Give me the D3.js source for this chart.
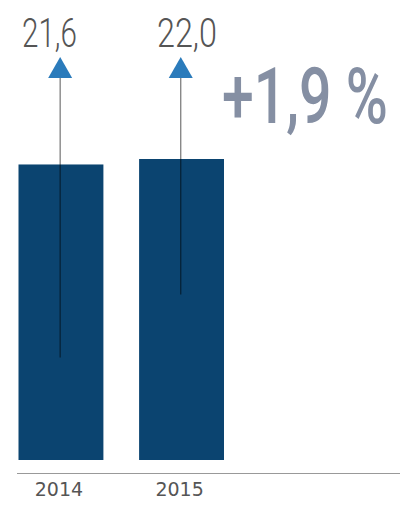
<!DOCTYPE html>
<html><head><meta charset="utf-8">
<script src="https://cdn.jsdelivr.net/npm/d3@7"></script>
<style>html,body{margin:0;padding:0;background:#fff;}svg{display:block;}</style>
</head><body>
<script>
const years = ["2014", "2015"];
const values = [21.6, 22.0];
const valueLabels = ["21,6", "22,0"];
const arrowBase = [7.5, 12.1];   // value where each arrow line starts
const changeLabel = "+1,9 %";

const W = 416, H = 507;
const svg = d3.select("body").append("svg").attr("width", W).attr("height", H);

const x = d3.scaleBand().domain(years).range([18.5, 224]).paddingInner(0.296).paddingOuter(0);
const y = d3.scaleLinear().domain([0, 22]).range([460, 159]);

// bars
svg.selectAll("rect.bar").data(years).join("rect")
  .attr("class", "bar")
  .attr("x", d => x(d)).attr("width", x.bandwidth())
  .attr("y", (d, i) => y(values[i])).attr("height", (d, i) => y(0) - y(values[i]))
  .attr("fill", "#0b4470");

// arrow lines
const tipY = 57, baseTri = 78;
const cxOf = d => x(d) + x.bandwidth() / 2 - 0.8;
svg.selectAll("line.arrow").data(years).join("line")
  .attr("x1", cxOf).attr("x2", cxOf)
  .attr("y1", (d, i) => y(arrowBase[i])).attr("y2", baseTri)
  .attr("stroke", "rgba(0,0,0,0.55)").attr("stroke-width", 1.2);

// triangles
svg.selectAll("path.tri").data(years).join("path")
  .attr("d", d => {
    const cx = cxOf(d);
    return `M${cx},${tipY}L${cx + 12},${baseTri}L${cx - 12},${baseTri}Z`;
  })
  .attr("fill", "#2b7bbb");

// helper: horizontally squeeze text to a target width, left edge at x0
function squeeze(sel, x0, baseY, targetW) {
  sel.each(function() {
    const t = d3.select(this);
    const w = this.getComputedTextLength();
    const s = targetW / w;
    t.attr("x", 0).attr("y", 0)
     .attr("transform", `translate(${x0},${baseY}) scale(${s},1)`);
  });
}

// value labels
const valLefts = [22, 157];
svg.selectAll("text.val").data(years).join("text")
  .attr("class", "val")
  .attr("font-family", "Roboto, sans-serif").attr("font-weight", 300)
  .attr("font-size", 41).attr("fill", "#555")
  .text((d, i) => valueLabels[i])
  .each(function(d, i) { squeeze(d3.select(this), valLefts[i], 47, i === 0 ? 55 : 60); });

// change label
svg.append("text")
  .attr("font-family", "Roboto, sans-serif").attr("font-weight", 500)
  .attr("font-size", 77).attr("fill", "#858fa3")
  .text(changeLabel)
  .call(s => squeeze(s, 222, 123, 166));

// axis
const axis = d3.axisBottom(x).tickSize(0).tickPadding(10);
const g = svg.append("g").attr("transform", "translate(0,473)").call(axis);
g.select(".domain").remove();
g.selectAll("text").attr("font-family", "'DejaVu Sans',sans-serif").attr("font-size", 19)
  .attr("fill", "#555").attr("dx", -2);
svg.append("line").attr("x1", 17).attr("x2", 400).attr("y1", 473.5).attr("y2", 473.5)
  .attr("stroke", "#999").attr("stroke-width", 1.2);
</script>
</body></html>
